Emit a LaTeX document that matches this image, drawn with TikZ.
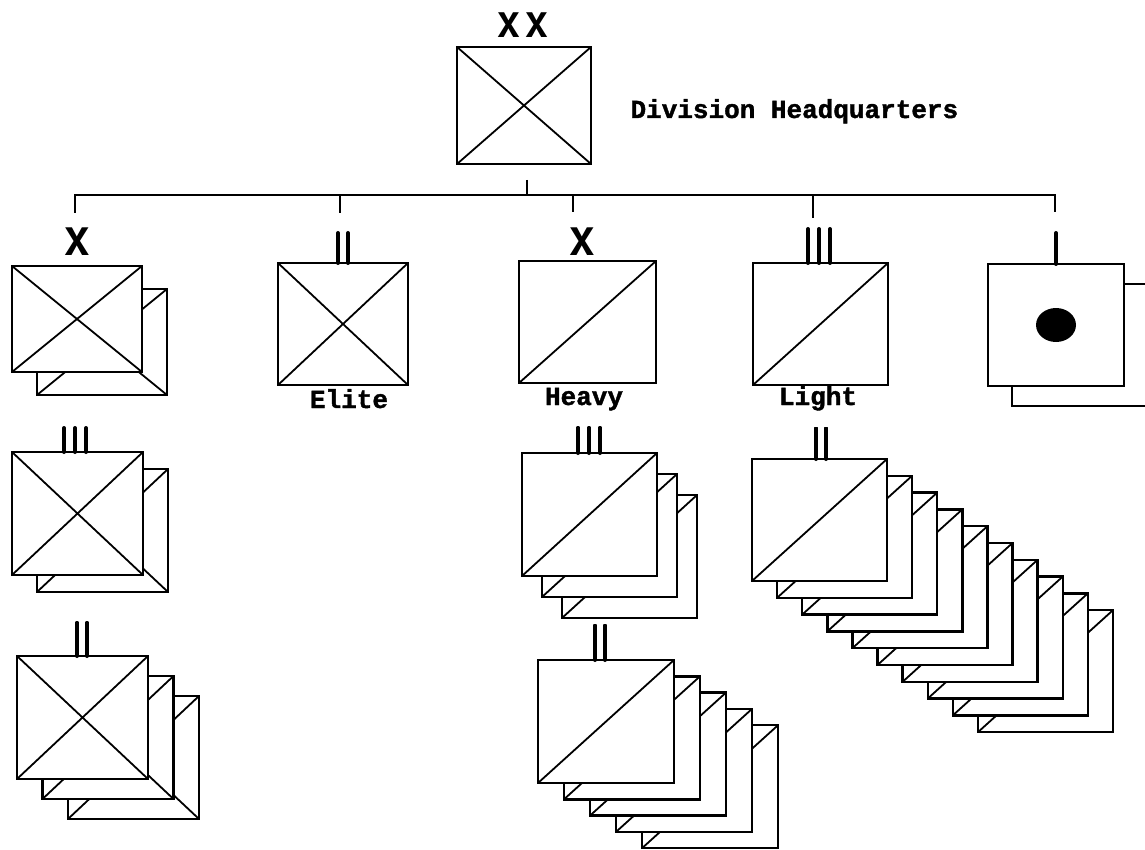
\documentclass[tikz,border=0pt]{standalone}
\usepackage{fontspec}
\usetikzlibrary{calc}
\newfontfamily\labfont{Liberation Mono}[FakeBold=1.5]
\newfontfamily\echfont{TeX Gyre Heros}

\tikzset{
  unit/.style={draw, fill=white, line width=2.4pt, rectangle, inner sep=0pt, outer sep=0pt, anchor=north west},
  diag/.style={line width=1.8pt},
  tree/.style={line width=1.6pt},
  bar/.style={line width=4pt, line cap=round},
  ech/.style={font=\echfont\bfseries\fontsize{38}{38}\selectfont, anchor=base},
  tag/.style={font=\labfont\bfseries\fontsize{26}{26}\selectfont, anchor=base},
}

% unit frames: name, left, top, width, height
\newcommand{\crossunit}[5]{%
  \node[unit, minimum width=#4pt, minimum height=#5pt] (#1) at (#2,#3) {};
  \draw[diag] (#1.north west) -- (#1.south east) (#1.south west) -- (#1.north east);}
\newcommand{\slashunit}[5]{%
  \node[unit, minimum width=#4pt, minimum height=#5pt] (#1) at (#2,#3) {};
  \draw[diag] (#1.south west) -- (#1.north east);}

\begin{document}
\begin{tikzpicture}[x=1pt, y=-1pt]
\useasboundingbox (0,0) rectangle (1145,850);
\clip (0,0) rectangle (1145,850);

% division headquarters
\crossunit{hq}{457}{47}{134}{117}
\node[ech, font=\echfont\bfseries\fontsize{34}{34}\selectfont] (hq-ech) at (523,38) {X\kern5pt X};
\node[tag, anchor=base west] (hq-tag) at (627,118) {Division Headquarters};

% command lines
\coordinate (hq-stem) at (527,180);
\coordinate (bus-stem) at (527,195);
\coordinate (bus-w) at (75,195);
\coordinate (bus-e) at (1055,195);
\coordinate (drop-brig) at (75,213);
\coordinate (drop-sig) at (1055,212);
\coordinate (bus-elite) at (340,195);
\coordinate (drop-elite) at (340,213);
\coordinate (bus-hvy) at (573,195);
\coordinate (drop-hvy) at (573,212);
\coordinate (bus-lgt) at (813,195);
\coordinate (drop-lgt) at (813,218);
\draw[tree] (hq-stem) -- (bus-stem);
\draw[tree] (drop-brig) -- (bus-w) -- (bus-e) -- (drop-sig);
\draw[tree] (bus-elite) -- (drop-elite);
\draw[tree] (bus-hvy) -- (drop-hvy);
\draw[tree] (bus-lgt) -- (drop-lgt);

% brigade column
\crossunit{brig-1}{37}{289}{130}{106}
\crossunit{brig}{12}{266}{130}{106}
\node[ech] (brig-ech) at (77,255) {X};

\crossunit{rgt-1}{37}{469}{131}{123}
\crossunit{rgt}{12}{452}{131}{123}
\foreach \x in {64,75,86}
  \draw[bar] (\x,428) -- (\x,452);

\foreach \i in {2,1}
  \crossunit{bn-\i}{17+25.5*\i}{656+20*\i}{131}{123}
\crossunit{bn}{17}{656}{131}{123}
\foreach \x in {77,87}
  \draw[bar] (\x,623) -- (\x,656);

% elite
\crossunit{elite}{278}{263}{130}{122}
\foreach \x in {338,348}
  \draw[bar] (\x,233) -- (\x,263);
\node[tag] (elite-tag) at (349,408) {Elite};

% heavy
\slashunit{hvy}{519}{261}{137}{122}
\node[ech] (hvy-ech) at (582,255) {X};
\node[tag] (hvy-tag) at (584,405) {Heavy};

\foreach \i in {2,1}
  \slashunit{hvy3-\i}{522+20*\i}{453+21*\i}{135}{123}
\slashunit{hvy3}{522}{453}{135}{123}
\foreach \x in {578,589,600}
  \draw[bar] (\x,428) -- (\x,453);

\foreach \i in {4,...,1}
  \slashunit{hvy2-\i}{538+26*\i}{660+16.3*\i}{136}{123}
\slashunit{hvy2}{538}{660}{136}{123}
\foreach \x in {595,605}
  \draw[bar] (\x,626) -- (\x,660);

% light
\slashunit{lgt}{753}{263}{135}{122}
\foreach \x in {808,819,830}
  \draw[bar] (\x,229) -- (\x,263);
\node[tag] (lgt-tag) at (818,405) {Light};

\foreach \i in {9,...,1}
  \slashunit{lgt2-\i}{752+25.1*\i}{459+16.8*\i}{135}{122}
\slashunit{lgt2}{752}{459}{135}{122}
\foreach \x in {816,826}
  \draw[bar] (\x,429) -- (\x,459);

% company with dot
\node[unit, minimum width=136pt, minimum height=122pt] (sig-1) at (1012,284) {};
\node[unit, minimum width=136pt, minimum height=122pt] (sig) at (988,264) {};
\fill (sig.center) ellipse [x radius=20, y radius=17];
\draw[bar] (1056,233) -- (1056,264);
\end{tikzpicture}
\end{document}
